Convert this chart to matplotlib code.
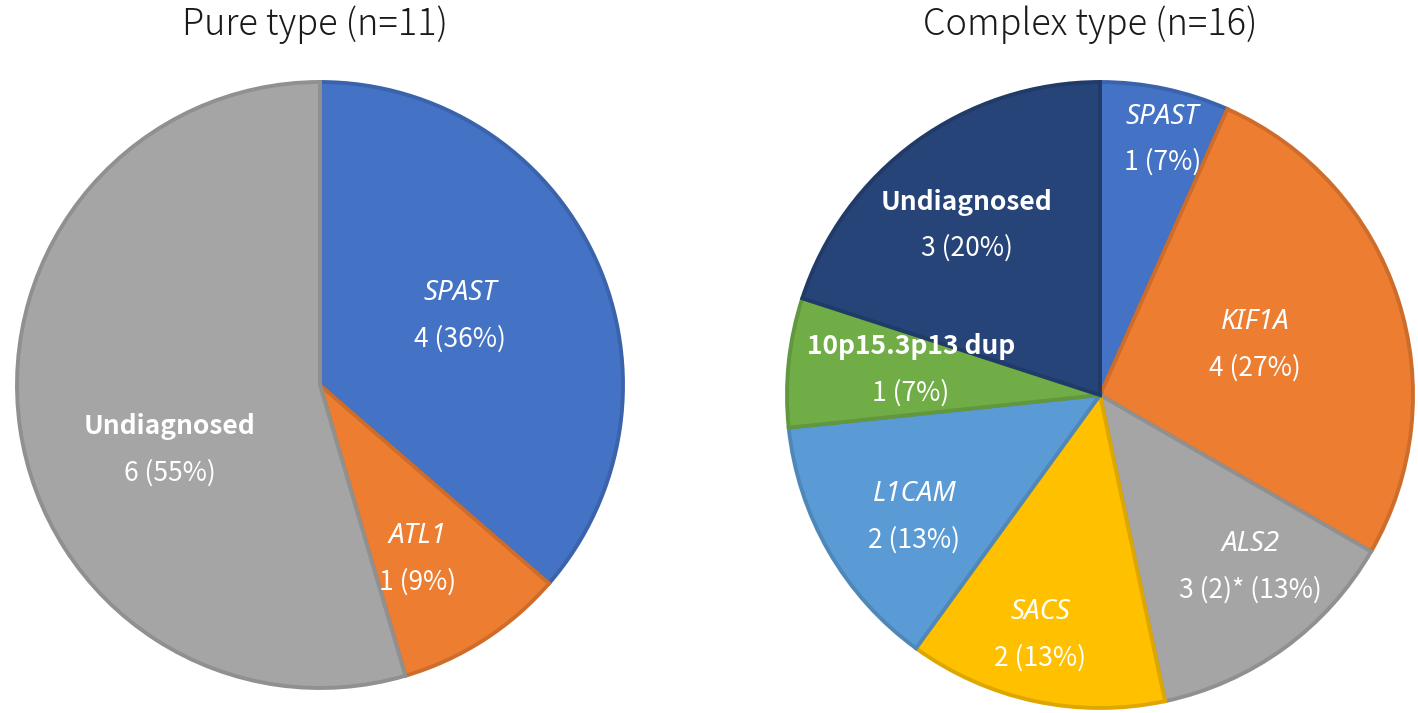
import matplotlib
matplotlib.use('Agg')
import matplotlib.pyplot as plt
import numpy as np
from matplotlib.colors import to_rgb

plt.rcParams['font.family'] = ['Noto Sans CJK JP', 'DejaVu Sans']

# ---- data ----
pure_title = 'Pure type (n=11)'
pure_labels = ['SPAST', 'ATL1', 'Undiagnosed']
pure_counts = [4, 1, 6]
pure_count_text = ['4', '1', '6']
pure_colors = ['#4472C4', '#ED7D31', '#A5A5A5']
pure_italic = [True, True, False]

complex_title = 'Complex type (n=16)'
complex_labels = ['SPAST', 'KIF1A', 'ALS2', 'SACS', 'L1CAM', '10p15.3p13 dup', 'Undiagnosed']
complex_counts = [1, 4, 2, 2, 2, 1, 3]
complex_count_text = ['1', '4', '3 (2)*', '2', '2', '1', '3']
complex_colors = ['#4472C4', '#ED7D31', '#A5A5A5', '#FFC000', '#5B9BD5', '#70AD47', '#264478']
complex_italic = [True, True, True, True, True, False, False]

# label placement (radial fraction, clockwise angle offset in degrees)
pure_lab_pos = [(0.515, -1.6), (0.66, 3.4), (0.54, -15.2)]
complex_lab_pos = [(0.84, 1.7), (0.52, 0.0), (0.73, -5.1), (0.79, 2.0),
                   (0.71, -3.4), (0.61, 1.6), (0.69, -2.2)]

W, H = 1418, 713
fig = plt.figure(figsize=(W / 100, H / 100), dpi=100)
ax = fig.add_axes([0, 0, 1, 1])


def darker(c, f=0.87):
    return tuple(np.array(to_rgb(c)) * f)


def draw_pie(values, labels, count_text, colors, italic, lab_pos, center, radius, title, title_x):
    total = sum(values)
    wedges, _ = ax.pie(values, colors=colors, startangle=90, counterclock=False,
                       center=center, radius=radius,
                       wedgeprops=dict(linewidth=2.8))
    for w, c in zip(wedges, colors):
        w.set_edgecolor(darker(c))
    for w, v, lab, ct, it, (d, off) in zip(wedges, values, labels, count_text, italic, lab_pos):
        mid = (w.theta1 + w.theta2) / 2.0 - off
        x = center[0] + d * radius * np.cos(np.radians(mid))
        y = center[1] + d * radius * np.sin(np.radians(mid))
        pct = round(100 * v / total)
        if it:
            ax.text(x, y + 23, lab, ha='center', va='center', color='white',
                    fontsize=20, style='italic', fontweight='medium',
                    family=['Noto Sans', 'DejaVu Sans'])
        else:
            ax.text(x, y + 23, lab, ha='center', va='center', color='white',
                    fontsize=19, fontweight='bold')
        ax.text(x, y - 23, f'{ct} ({pct}%)', ha='center', va='center', color='white',
                fontsize=19)
    ax.text(title_x, H - 25, title, ha='center', va='center', fontsize=26,
            fontweight='light', color='#1a1a1a')


draw_pie(pure_counts, pure_labels, pure_count_text, pure_colors, pure_italic,
         pure_lab_pos, (320, H - 385), 303, pure_title, 315)
draw_pie(complex_counts, complex_labels, complex_count_text, complex_colors, complex_italic,
         complex_lab_pos, (1100, H - 395), 313, complex_title, 1090)

ax.set_xlim(0, W)
ax.set_ylim(0, H)
ax.set_aspect('equal')
ax.axis('off')
fig.savefig('out.png', dpi=100, facecolor='white')
